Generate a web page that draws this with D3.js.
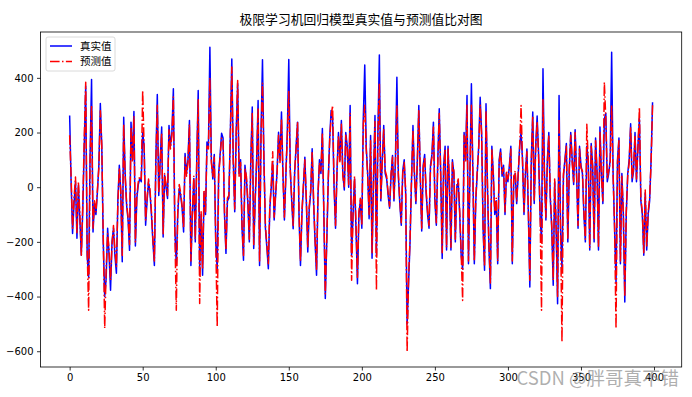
<!DOCTYPE html>
<html>
<head>
<meta charset="utf-8">
<script src="https://cdn.jsdelivr.net/npm/d3@7"></script>
<style>
  html, body { margin: 0; padding: 0; background: #fff; }
  svg { display: block; }
</style>
</head>
<body>
<svg id="chart" width="692" height="397"></svg>
<script>
const title = "极限学习机回归模型真实值与预测值比对图";
const seriesNames = ["真实值", "预测值"];
const xTicks = [0, 50, 100, 150, 200, 250, 300, 350, 400];
const yTicks = [-600, -400, -200, 0, 200, 400];

const trueValues = [
  262, 20, -169, -60, 20, -187, 7, -120, -249, -80,
  150, 370, -250, -330, 120, 394, -164, -60, -100, -18,
  80, 306, 150, -200, -400, -333, -150, -250, -377, -200,
  -150, -250, -315, -50, 80, -20, -273, 256, 50, -66,
  -120, -231, 238, 100, 277, -215, -40, 10, 32, 20,
  200, 150, -139, -50, 19, -20, -100, -200, -286, 100,
  339, -30, 100, 220, -182, 43, 0, -41, 226, 150,
  200, 360, -150, -286, -100, -4, -30, -77, -164, 123,
  50, 100, 244, -286, -100, 32, -200, 100, 354, -300,
  -100, -322, -20, -100, 165, 150, 512, 100, 30, 120,
  -200, -300, 50, 120, 197, 180, -100, -242, -50, -40,
  200, 469, 100, -90, 200, 380, 50, 100, -150, -267,
  80, 30, -60, -200, 100, 293, -224, -50, 100, 317,
  -286, 200, 466, 100, -150, -220, -298, -80, 0, 90,
  -120, -30, 60, 201, 100, 275, 50, -120, 40, 200,
  467, 70, -50, -152, 50, 150, 238, -100, -286, -100,
  0, 110, -50, -237, -80, -20, 141, -60, -200, -322,
  -30, 100, 50, 215, -100, -407, -200, 20, 180, 281,
  250, 0, -150, 60, 200, 100, 244, 50, -10, 200,
  150, 0, 299, -250, -100, 30, -150, -353, -100, -50,
  -150, 250, 447, 150, 50, -115, 189, -260, 30, 262,
  -250, 200, 484, -50, 100, 226, 50, 30, -30, -77,
  40, 116, -50, 100, 402, 40, -60, -139, 60, 100,
  -20, -500, -350, -200, 20, 226, 50, -60, 100, 299,
  40, -160, 80, 120, -20, -100, -150, 80, 120, 238,
  -50, -139, 100, 287, 50, -261, 80, 150, -230, 150,
  0, -230, 100, 50, -200, 0, 20, -100, -250, -300,
  200, 100, 335, -280, 50, 378, 60, -280, -50, 50,
  150, 329, 200, -150, -304, 305, 0, -220, -371, 150,
  50, -100, -50, -280, 100, 140, 40, 80, -100, 50,
  20, 80, 150, -280, 30, 50, -60, 40, 150, 200,
  100, -100, 50, 140, -100, -365, 100, 275, -60, 150,
  260, 120, -100, -200, 433, 50, -120, 100, 200, -40,
  -150, -359, 20, -150, -426, 335, -150, -300, 40, 100,
  160, -200, 60, 200, 100, 10, 210, 50, -150, 150,
  80, 50, -100, -200, 150, 100, -230, 160, 80, -200,
  180, 60, -230, 220, 50, -60, 250, 270, 20, 50,
  100, 494, 50, -150, -350, 100, 180, -280, 50, -100,
  -420, -100, 50, 100, 232, 20, 60, 200, 20, 150,
  250, -50, -100, -249, -20, -230, -100, -50, 100, 311
];

const predValues = [
  190, 40, -150, -40, 37, -170, 20, -100, -249, -60,
  180, 384, -230, -450, 100, 300, -150, -50, -90, -10,
  70, 280, 153, -180, -516, -300, -170, -230, -340, -210,
  -140, -230, -290, -60, 70, -10, -250, 230, 40, -60,
  -110, -210, 220, 90, 260, -200, -30, 20, 40, 30,
  354, 140, -120, -40, 30, -10, -90, -190, -270, 90,
  300, -20, 90, 200, -170, 50, 10, -30, 210, 140,
  190, 330, -160, -450, -90, 10, -20, -70, -150, 110,
  40, 90, 230, -270, -90, 40, -190, 90, 320, -425,
  -90, -300, -10, -90, 150, 140, 400, 90, 40, 110,
  -190, -511, 40, 110, 180, 170, -90, -230, -40, -30,
  190, 440, 90, -80, 190, 390, 40, 90, -140, -250,
  70, 40, -50, -190, 90, 270, -210, -40, 90, 290,
  -270, 190, 380, 90, -140, -210, -280, -70, 10, 130,
  -110, -20, 50, 190, 90, 250, 40, -110, 50, 190,
  350, 60, -40, -140, 60, 140, 238, -90, -270, -90,
  10, 100, -40, -220, -70, -10, 130, -50, -190, -300,
  -20, 90, 60, 200, -90, -390, -190, 30, 170, 260,
  299, 10, -140, 50, 190, 90, 230, 40, 0, 190,
  140, 10, 270, -340, -90, 40, -140, -330, -90, -40,
  -140, 230, 300, 140, 40, -100, 170, -240, 40, 240,
  -377, 190, 380, -40, 90, 210, 60, 40, -20, -70,
  50, 110, -40, 90, 300, 50, -50, -130, 50, 90,
  -10, -602, -330, -190, 30, 210, 40, -50, 90, 280,
  50, -150, 70, 110, -10, -90, -140, 70, 110, 220,
  -40, -130, 90, 270, 40, -240, 70, 140, -220, 140,
  10, -220, 90, 60, -190, 10, 30, -90, -240, -414,
  190, 90, 300, -270, 60, 300, 50, -270, -40, 60,
  140, 300, 190, -140, -290, 280, 10, -210, -350, 140,
  40, -90, -40, -270, 90, 130, 50, 70, -90, 60,
  30, 70, 140, -270, 40, 60, -50, 50, 140, 299,
  90, -90, 60, 130, -90, -340, 90, 260, -50, 140,
  240, 110, -90, -450, 320, 40, -110, 90, 190, -30,
  -140, -340, 30, -140, -400, 250, -140, -566, 50, 90,
  150, -190, 70, 190, 90, 20, 200, 40, -140, 140,
  70, 60, -90, -190, 230, 90, -220, 150, 70, -190,
  170, 50, -220, 200, 40, -50, 384, 250, 30, 60,
  90, 300, 40, -140, -517, 90, 170, -270, 40, -90,
  -400, -90, 40, 90, 220, 30, 70, 190, 30, 140,
  293, -40, -90, -240, -10, -220, -90, -40, 90, 300
];

const svg = d3.select("#chart");
const plot = { left: 40.5, right: 681.7, top: 32, bottom: 367 };

const n = trueValues.length;
const xPad = (n - 1) * 0.05;
const x = d3.scaleLinear().domain([-xPad, n - 1 + xPad]).range([plot.left, plot.right]);
const allVals = trueValues.concat(predValues);
const [ymin, ymax] = d3.extent(allVals);
const yPad = (ymax - ymin) * 0.05;
const y = d3.scaleLinear().domain([ymin - yPad, ymax + yPad]).range([plot.bottom, plot.top]);

const tickFont = "DejaVu Sans, sans-serif";
const cjkFont = "'Noto Sans CJK SC', 'Noto Sans CJK JP', sans-serif";

svg.append("defs").append("clipPath").attr("id", "clip")
  .append("rect").attr("x", plot.left).attr("y", plot.top)
  .attr("width", plot.right - plot.left).attr("height", plot.bottom - plot.top);

const line = d3.line().x((d, i) => x(i)).y(d => y(d));

const g = svg.append("g").attr("clip-path", "url(#clip)");
g.append("path").datum(trueValues)
  .attr("d", line).attr("fill", "none")
  .attr("stroke", "#0000ff").attr("stroke-width", 1.5)
  .attr("stroke-linejoin", "round");
g.append("path").datum(predValues)
  .attr("d", line).attr("fill", "none")
  .attr("stroke", "#ff0000").attr("stroke-width", 1.5)
  .attr("stroke-dasharray", "9.6,2.4,1.5,2.4")
  .attr("stroke-linejoin", "round");

const xAxis = d3.axisBottom(x).tickValues(xTicks).tickSize(3.5).tickPadding(3.5).tickFormat(d3.format("d"));
const yAxis = d3.axisLeft(y).tickValues(yTicks).tickSize(3.5).tickPadding(3.5).tickFormat(d3.format("d"));

const gx = svg.append("g").attr("transform", `translate(0,${plot.bottom})`).call(xAxis);
const gy = svg.append("g").attr("transform", `translate(${plot.left},0)`).call(yAxis);
[gx, gy].forEach(a => {
  a.select(".domain").remove();
  a.selectAll(".tick line").attr("stroke", "#000").attr("stroke-width", 0.8);
  a.selectAll(".tick text").attr("font-family", tickFont).attr("font-size", 10).attr("fill", "#000");
});

svg.append("rect")
  .attr("x", plot.left).attr("y", plot.top)
  .attr("width", plot.right - plot.left).attr("height", plot.bottom - plot.top)
  .attr("fill", "none").attr("stroke", "#000").attr("stroke-width", 0.8);

svg.append("text")
  .attr("x", (plot.left + plot.right) / 2).attr("y", 24)
  .attr("text-anchor", "middle")
  .attr("font-family", cjkFont).attr("font-size", 12.8).attr("fill", "#000")
  .text(title);

const leg = svg.append("g");
leg.append("rect")
  .attr("x", 46).attr("y", 37).attr("width", 69).attr("height", 34)
  .attr("rx", 2).attr("fill", "#fff").attr("fill-opacity", 0.8)
  .attr("stroke", "#d0d0d0").attr("stroke-width", 0.8);
const legItems = [
  { name: seriesNames[0], color: "#0000ff", dash: null, y: 46 },
  { name: seriesNames[1], color: "#ff0000", dash: "9.6,2.4,1.5,2.4", y: 61.5 }
];
legItems.forEach(it => {
  const l = leg.append("line")
    .attr("x1", 50).attr("x2", 72).attr("y1", it.y).attr("y2", it.y)
    .attr("stroke", it.color).attr("stroke-width", 1.5);
  if (it.dash) l.attr("stroke-dasharray", it.dash);
  leg.append("text")
    .attr("x", 80).attr("y", it.y).attr("dy", "0.35em")
    .attr("font-family", cjkFont).attr("font-size", 10.5).attr("fill", "#000")
    .text(it.name);
});

// watermark (present in the reference image)
svg.append("text")
  .attr("x", 679).attr("y", 385)
  .attr("text-anchor", "end")
  .attr("font-family", cjkFont).attr("font-size", 18.5)
  .attr("fill", "#8c8c8c").attr("fill-opacity", 0.7)
  .text("CSDN @胖哥真不错");
</script>
</body>
</html>
